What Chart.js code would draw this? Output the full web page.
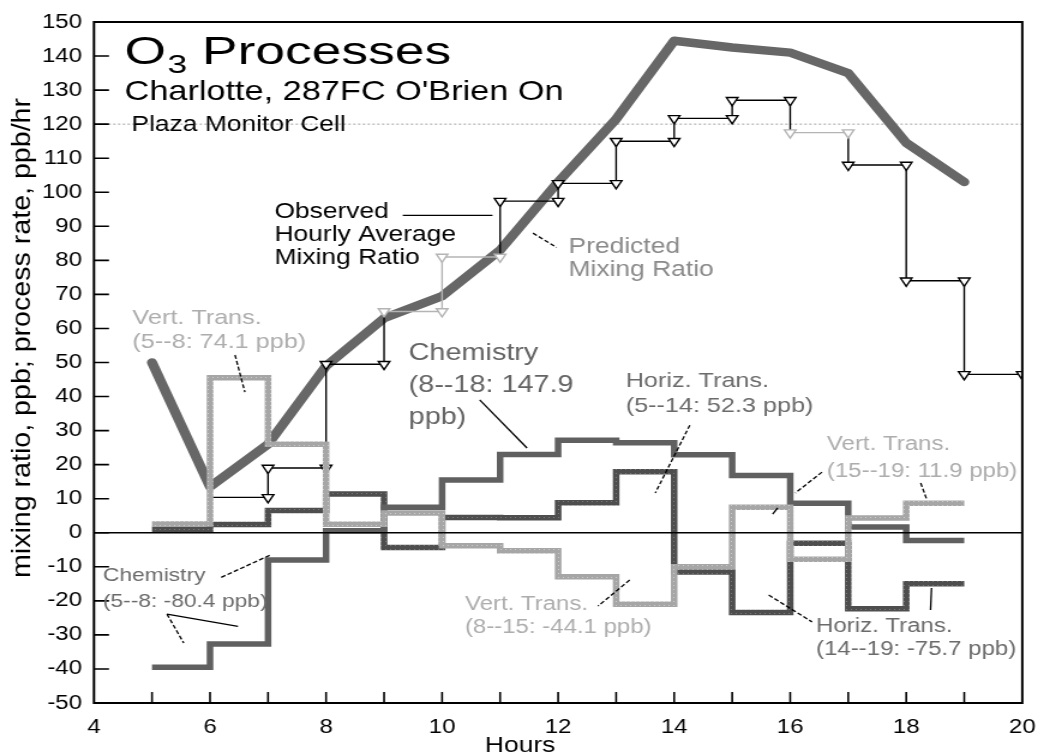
<!DOCTYPE html>
<html>
<head>
<meta charset="utf-8">
<script src="https://cdn.jsdelivr.net/npm/chart.js@4.4.1/dist/chart.umd.min.js"></script>
<style>
html, body { margin:0; padding:0; background:#fff; overflow:hidden; }
#wrap { width:875px; height:755px; transform:scaleX(1.2); transform-origin:0 0; }
</style>
</head>
<body>
<div id="wrap"><canvas id="chart"></canvas></div>
<script>
(function(){
    'use strict';
    // ---- values ----
    const predHours = [5, 6, 7, 8, 9, 10, 11, 12, 13, 14, 15, 16, 17, 18, 19];
    const predicted = [50, 13.5, 26, 49, 63, 69.5, 83, 103, 121.5, 144.5, 142.5, 141, 135, 114.5, 103];

    // observed hourly average, value for the hour starting at obsHours[i]
    const obsHours = [6, 7, 8, 9, 10, 11, 12, 13, 14, 15, 16, 17, 18, 19];
    const observed = [10.4, 19, 49.5, 65, 81, 97.4, 102.6, 115, 121.7, 127, 117.5, 108, 74, 46.5];
    const obsGray  = [0, 0, 0, 1, 1, 0, 0, 0, 0, 0, 1, 0, 0, 0];

    // process rates, ppb/hr, for the hour starting at procHours[i]
    const procHours  = [5, 6, 7, 8, 9, 10, 11, 12, 13, 14, 15, 16, 17, 18];
    const vertTrans  = [2.6, 45.5, 26, 2.5, 5.8, -3.8, -5.3, -12.9, -21, -10, 7.5, -7.8, 4.3, 8.7];
    const chemistry  = [-39.5, -32.7, -8, 0.6, 7.5, 15.5, 23, 27.2, 26.4, 22.9, 16.8, 8.7, 1.7, -2.3];
    const horizTrans = [1, 2.4, 6.5, 11.4, -4.3, 4.5, 4.4, 8.8, 17.9, -11.5, -23.4, -3.1, -22.3, -15];

    const refLine = 120;
    const FONT = '"Liberation Sans", Arial, Helvetica, sans-serif';

    // text notes: lines, hour, value of first baseline, line gap px, size, colour, x stretch
    const notes = [
        {t: ["Charlotte, 287FC O'Brien On"], h: 4.527, v: 127.1, gap: 0, size: 28, c: '#000', sx: 1.02},
        {t: ['Plaza Monitor Cell'], h: 4.646, v: 118.0, gap: 0, size: 22, c: '#000'},
        {t: ['Observed', 'Hourly Average', 'Mixing Ratio'], h: 7.111, v: 92.4, gap: 23, size: 22, c: '#000'},
        {t: ['Predicted', 'Mixing Ratio'], h: 12.179, v: 82.1, gap: 23, size: 22, c: '#8a8a8a'},
        {t: ['Vert. Trans.', '(5--8: 74.1 ppb)'], h: 4.663, v: 61.3, gap: 24, size: 21, c: '#adadad'},
        {t: ['Chemistry', '(8--18: 147.9', 'ppb)'], h: 9.424, v: 50.7, gap: 32, size: 24, c: '#646464'},
        {t: ['Horiz. Trans.', '(5--14: 52.3 ppb)'], h: 13.165, v: 42.8, gap: 25, size: 21, c: '#6b6b6b'},
        {t: ['Vert. Trans.', '(15--19: 11.9 ppb)'], h: 16.633, v: 24.3, gap: 27, size: 20, c: '#adadad'},
        {t: ['Chemistry', '(5--8: -80.4 ppb)'], h: 4.153, v: -14.3, gap: 26, size: 19, c: '#6b6b6b'},
        {t: ['Vert. Trans.', '(8--15: -44.1 ppb)'], h: 10.393, v: -22.7, gap: 23, size: 20, c: '#adadad'},
        {t: ['Horiz. Trans.', '(14--19: -75.7 ppb)'], h: 16.446, v: -29.2, gap: 23, size: 20, c: '#6b6b6b'}
    ];
    // leader lines: h1, v1, h2, v2, dashed
    const leaders = [
        [9.322, 93.2, 10.869, 93.2, false],
        [11.566, 88.0, 11.974, 83.8, true],
        [6.431, 52.2, 6.601, 41.3, true],
        [10.648, 39.0, 11.464, 24.9, false],
        [14.27, 31.6, 13.675, 11.7, true],
        [16.548, 17.8, 16.089, 11.7, true],
        [18.249, 14.6, 18.351, 9.9, true],
        [15.783, 7.3, 15.698, 5.5, false],
        [6.193, -13.1, 7.044, -6.5, true],
        [5.258, -23.9, 6.482, -27.5, false],
        [5.258, -23.9, 5.547, -32.4, true],
        [13.233, -13.9, 12.689, -21.5, true],
        [15.630, -18.3, 16.378, -26.2, true],
        [18.436, -16.2, 18.419, -22.7, false]
    ];

    function stepPoints(hours, vals){
        const pts = hours.map(function(h, i){ return {x: h, y: vals[i]}; });
        pts.push({x: hours[hours.length - 1] + 1, y: vals[vals.length - 1]});
        return pts;
    }

    const obsPts = [];
    obsHours.forEach(function(h, i){
        obsPts.push({x: h, y: observed[i]}, {x: h + 1, y: observed[i]});
    });
    function obsSegGray(k){
        const i = Math.floor(k / 2);
        if(k % 2 === 0) return obsGray[i];
        return obsGray[i] && obsGray[i + 1];
    }

    const canvas = document.getElementById('chart');
    const ctx0 = canvas.getContext('2d');
    function makePattern(base, dot){
        const c = document.createElement('canvas');
        c.width = 4; c.height = 4;
        const g = c.getContext('2d');
        g.fillStyle = base; g.fillRect(0, 0, 4, 4);
        g.fillStyle = dot; g.fillRect(1, 1, 1, 1);
        return ctx0.createPattern(c, 'repeat');
    }
    const vertPat = makePattern('#a6a6a6', '#cdcdcd');
    const horizPat = makePattern('#4e4e4e', '#7c7c7c');

    function drawText(ctx, txt, x, y, size, color, sx){
        ctx.save();
        ctx.translate(x, y);
        ctx.scale(sx || 1, 1);
        ctx.font = size + 'px ' + FONT;
        ctx.fillStyle = color;
        ctx.textBaseline = 'alphabetic';
        ctx.textAlign = 'left';
        ctx.fillText(txt, 0, 0);
        ctx.restore();
    }

    const decor = {
        id: 'decor',
        beforeDatasetsDraw(chart){
            const {ctx, chartArea: a, scales: {y}} = chart;
            const yy = y.getPixelForValue(refLine);
            ctx.save();
            ctx.strokeStyle = '#a0a0a0';
            ctx.lineWidth = 1;
            ctx.setLineDash([2, 2]);
            ctx.beginPath(); ctx.moveTo(a.left, yy); ctx.lineTo(a.right, yy); ctx.stroke();
            ctx.restore();
        },
        afterDatasetsDraw(chart){
            const {ctx, chartArea: a, scales: {x, y}} = chart;
            ctx.save();
            // zero line
            ctx.strokeStyle = '#000';
            ctx.lineWidth = 1.5;
            const y0 = y.getPixelForValue(0);
            ctx.beginPath(); ctx.moveTo(a.left, y0); ctx.lineTo(a.right, y0); ctx.stroke();
            // frame
            ctx.lineWidth = 2;
            ctx.strokeRect(a.left, a.top, a.right - a.left, a.bottom - a.top);
            // inward ticks
            ctx.lineWidth = 1.6;
            ctx.beginPath();
            for(let v = -40; v <= 140; v += 10){
                const p = y.getPixelForValue(v);
                ctx.moveTo(a.left, p); ctx.lineTo(a.left + 12.5, p);
            }
            for(let h = 5; h <= 19; h++){
                const p = x.getPixelForValue(h);
                ctx.moveTo(p, a.bottom); ctx.lineTo(p, a.bottom - 11);
            }
            ctx.stroke();

            // leader lines
            ctx.lineWidth = 1.3;
            leaders.forEach(function(l){
                ctx.setLineDash(l[4] ? [4, 2] : []);
                ctx.beginPath();
                ctx.moveTo(x.getPixelForValue(l[0]), y.getPixelForValue(l[1]));
                ctx.lineTo(x.getPixelForValue(l[2]), y.getPixelForValue(l[3]));
                ctx.stroke();
            });
            ctx.setLineDash([]);

            // title: O3 Processes
            const tx = x.getPixelForValue(4.527), ty = y.getPixelForValue(137.6);
            ctx.save();
            ctx.translate(tx, ty);
            ctx.scale(1.14, 1);
            ctx.fillStyle = '#000';
            ctx.font = '39px ' + FONT;
            ctx.fillText('O', 0, 0);
            let w = ctx.measureText('O').width;
            ctx.font = '26px ' + FONT;
            ctx.fillText('3', w + 1, 9);
            w += 1 + ctx.measureText('3').width;
            ctx.font = '39px ' + FONT;
            ctx.fillText(' Processes', w, 0);
            ctx.restore();

            notes.forEach(function(n){
                const px = x.getPixelForValue(n.h);
                const py = y.getPixelForValue(n.v);
                n.t.forEach(function(line, i){
                    drawText(ctx, line, px, py + i * n.gap, n.size, n.c, n.sx);
                });
            });

            // axis titles
            ctx.fillStyle = '#000';
            ctx.save();
            ctx.translate(19, 338);
            ctx.rotate(-Math.PI / 2);
            ctx.scale(1.3, 1);
            ctx.font = '22px ' + FONT;
            ctx.textAlign = 'center';
            ctx.textBaseline = 'middle';
            ctx.fillText('mixing ratio, ppb; process rate, ppb/hr', 0, 0);
            ctx.restore();

            ctx.font = '22px ' + FONT;
            ctx.textAlign = 'center';
            ctx.textBaseline = 'alphabetic';
            ctx.fillText('Hours', x.getPixelForValue(11.345), 752);
            ctx.restore();
        }
    };

    const stepStyle = {stepped: true, borderWidth: 5.5, pointRadius: 0, fill: false,
        borderCapStyle: 'butt', borderJoinStyle: 'miter'};

    new Chart(canvas, {
        type: 'line',
        data: {
            datasets: [
                Object.assign({label: 'Vert. Trans.', data: stepPoints(procHours, vertTrans),
                    borderColor: vertPat}, stepStyle),
                Object.assign({label: 'Chemistry', data: stepPoints(procHours, chemistry),
                    borderColor: '#606060'}, stepStyle),
                Object.assign({label: 'Horiz. Trans.', data: stepPoints(procHours, horizTrans),
                    borderColor: horizPat}, stepStyle),
                {
                    label: 'Observed Hourly Average Mixing Ratio',
                    data: obsPts,
                    borderColor: '#000',
                    borderWidth: 1.4,
                    segment: {
                        borderColor: function(c){ return obsSegGray(c.p0DataIndex) ? '#b4b4b4' : '#000'; }
                    },
                    pointStyle: 'triangle',
                    rotation: 180,
                    pointRadius: function(c){ return c.dataIndex === 0 ? 0 : 5.5; },
                    pointBorderWidth: 1.4,
                    pointBackgroundColor: '#fff',
                    pointBorderColor: function(c){ return obsGray[Math.floor(c.dataIndex / 2)] ? '#b4b4b4' : '#000'; },
                    fill: false
                },
                {
                    label: 'Predicted Mixing Ratio',
                    data: predHours.map(function(h, i){ return {x: h, y: predicted[i]}; }),
                    borderColor: '#676767',
                    borderWidth: 8.5,
                    borderCapStyle: 'round',
                    borderJoinStyle: 'round',
                    pointRadius: 0,
                    tension: 0,
                    fill: false
                }
            ]
        },
        options: {
            responsive: true,
            maintainAspectRatio: false,
            animation: false,
            devicePixelRatio: 1,
            layout: {padding: {top: 22, right: 12.5, left: 0, bottom: 0}},
            plugins: {legend: {display: false}, tooltip: {enabled: false}, title: {display: false}},
            scales: {
                x: {
                    type: 'linear', min: 4, max: 20,
                    grid: {display: false, drawTicks: false},
                    border: {display: false},
                    ticks: {stepSize: 1, autoSkip: false, maxRotation: 0, padding: 12,
                        color: '#000', font: {family: FONT, size: 20},
                        callback: function(v){ return v % 2 === 0 ? String(v) : ''; }},
                    afterFit: function(s){ s.height = 52; }
                },
                y: {
                    min: -50, max: 150,
                    grid: {display: false, drawTicks: false},
                    border: {display: false},
                    ticks: {stepSize: 10, padding: 10, color: '#000', font: {family: FONT, size: 20}},
                    afterFit: function(s){ s.width = 78.3; }
                }
            }
        },
        plugins: [decor]
    });
}());
</script>
</body>
</html>
